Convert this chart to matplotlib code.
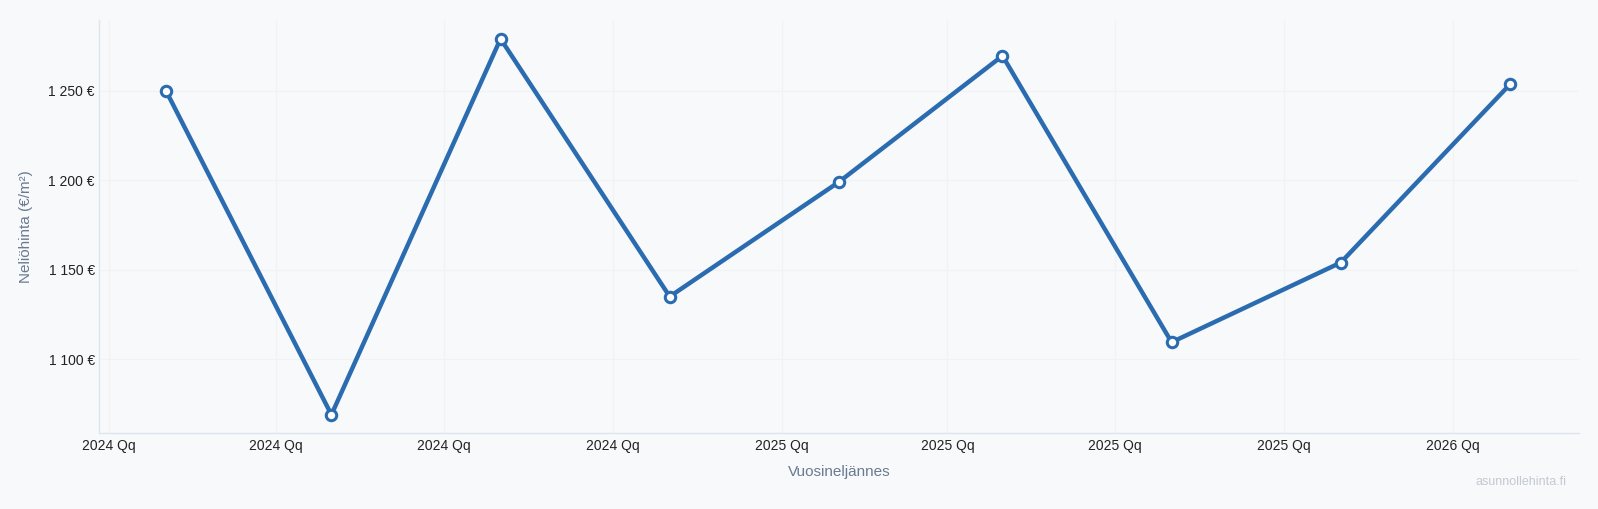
import matplotlib
matplotlib.use('Agg')
import matplotlib.pyplot as plt
import matplotlib.ticker as mticker
import numpy as np

plt.rcParams['font.family'] = ['Liberation Sans', 'DejaVu Sans']

# Data: price per m2 by quarter (points sit at mid-quarter month starts)
dates = np.array(['2024-02-01', '2024-05-01', '2024-08-01', '2024-11-01',
                  '2025-02-01', '2025-05-01', '2025-08-01', '2025-11-01',
                  '2026-02-01'], dtype='datetime64[D]')
prices = [1250, 1069, 1279, 1135, 1199, 1269.5, 1109.5, 1154, 1253.5]

tick_dates = np.array(['2024-01-01', '2024-04-01', '2024-07-01', '2024-10-01',
                       '2025-01-01', '2025-04-01', '2025-07-01', '2025-10-01',
                       '2026-01-01'], dtype='datetime64[D]')
tick_labels = ['2024 Qq', '2024 Qq', '2024 Qq', '2024 Qq',
               '2025 Qq', '2025 Qq', '2025 Qq', '2025 Qq', '2026 Qq']
y_ticks = [1100, 1150, 1200, 1250]

bg = '#f7f9fb'
line_color = '#2b6cb0'

fig = plt.figure(figsize=(15.98, 5.09), dpi=100, facecolor=bg)
ax = fig.add_axes([99 / 1598, 1 - 433 / 509, 1480 / 1598, 413 / 509])
ax.set_facecolor(bg)

ax.plot(dates, prices, color=line_color, linewidth=3.2, marker='o',
        markersize=7.5, markerfacecolor='white', markeredgecolor=line_color,
        markeredgewidth=2.2, zorder=3, solid_capstyle='round')

ax.set_xlim(np.datetime64('2023-12-26T14:00'), np.datetime64('2026-03-10T14:00'))
ax.set_ylim(1058.8, 1289.5)

ax.set_xticks(tick_dates)
ax.set_xticklabels(tick_labels)
ax.set_yticks(y_ticks)
ax.yaxis.set_major_formatter(mticker.FuncFormatter(
    lambda v, p: f'{int(v):,}'.replace(',', ' ') + ' €'))

ax.tick_params(axis='both', length=0, labelsize=10, colors='#222222')
ax.tick_params(axis='x', pad=4)
ax.tick_params(axis='y', pad=3)

ax.grid(True, color='#f0f2f5', linewidth=0.8)
ax.set_axisbelow(True)
for side in ['top', 'right']:
    ax.spines[side].set_visible(False)
for side in ['left', 'bottom']:
    ax.spines[side].set_color('#dfe5ee')
    ax.spines[side].set_linewidth(1.0)

ax.set_xlabel('Vuosineljännes', fontsize=11, color='#6b7a90', labelpad=9)
ax.set_ylabel('Neliöhinta (€/m²)', fontsize=11, color='#6b7a90', labelpad=11)

fig.text(1567 / 1598, 1 - 482 / 509, 'asunnollehinta.fi', fontsize=9,
         color='#c3c9d2', ha='right', va='center')

fig.savefig('out.png', dpi=100, facecolor=bg)
